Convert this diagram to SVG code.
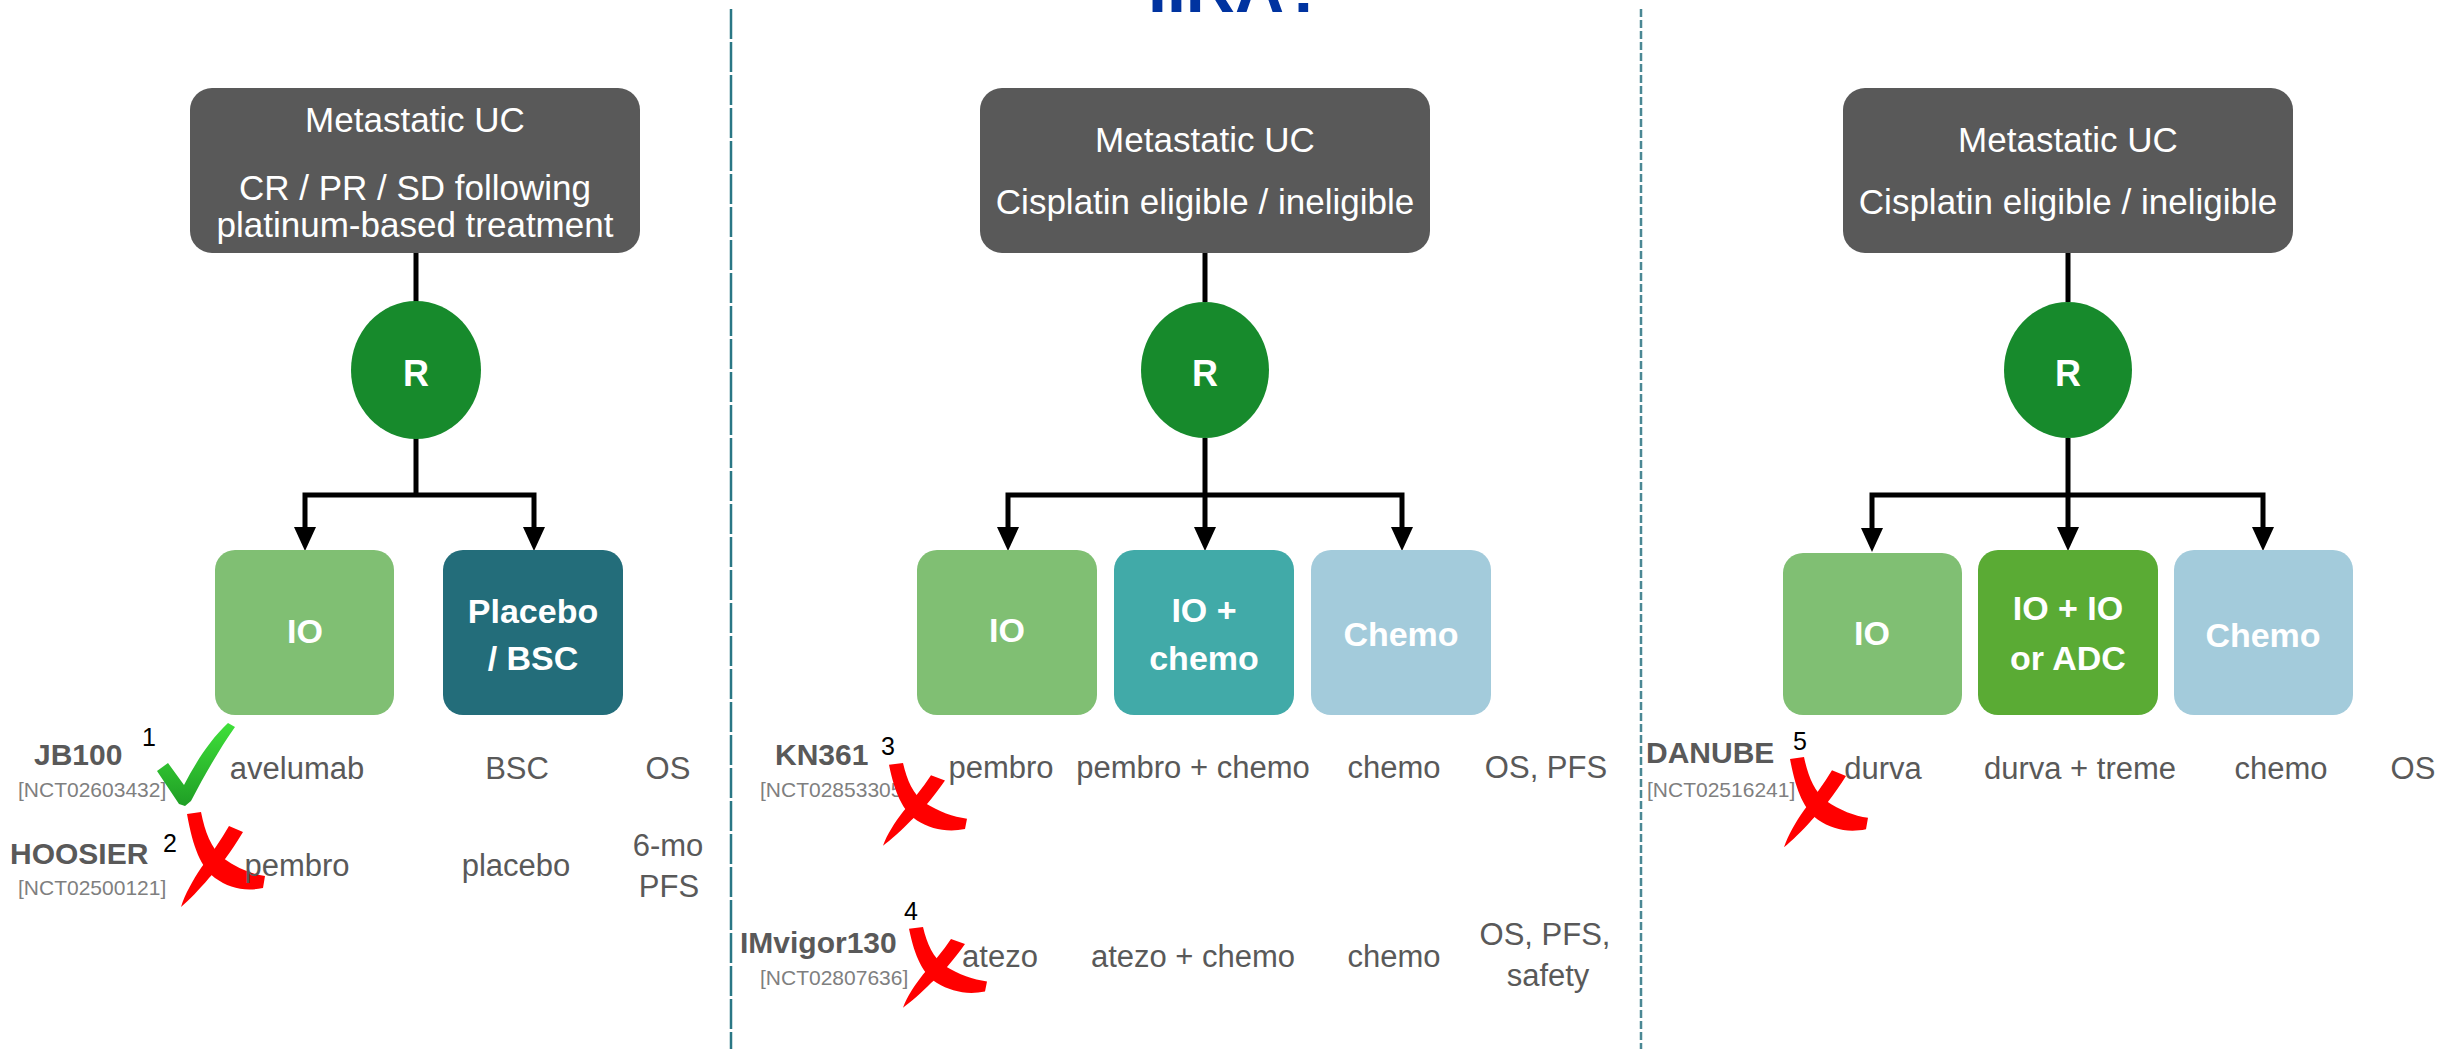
<svg xmlns="http://www.w3.org/2000/svg" width="2441" height="1049" viewBox="0 0 2441 1049">
<style>
text{font-family:"Liberation Sans",Arial,sans-serif}
.hdr{fill:#595959}
.hdrt{font-size:35px;fill:#fff;text-anchor:middle}
.rc{fill:#178a2c}
.rt{font-size:36px;font-weight:bold;fill:#fff;text-anchor:middle}
.bt{font-size:34px;font-weight:bold;fill:#fff;text-anchor:middle}
.trial{font-size:30px;font-weight:bold;fill:#595959}
.nct{font-size:21px;fill:#7f7f7f}
.sup{font-size:25px;fill:#000}
.cell{font-size:31px;fill:#595959;text-anchor:middle}
.conn{stroke:#000;stroke-width:5;fill:none}
.xm{fill:#ff0000}
</style>
<defs>
<marker id="arr" markerUnits="userSpaceOnUse" markerWidth="24" markerHeight="22" refX="0" refY="11" orient="auto" viewBox="0 0 24 22"><path d="M0,0 L24,11 L0,22 z" fill="#000"/></marker>
<symbol id="xmark" overflow="visible">
<path class="xm" d="M8,2 L22,0 C26,20 32,36 44,46 C58,56 72,62 86,64 L84,76 C66,80 50,76 36,66 C22,55 14,36 8,2 Z"/>
<path class="xm" d="M50,14 L64,20 C52,40 40,56 30,66 C20,78 10,88 2,95 C6,82 14,68 22,56 C32,42 42,28 50,14 Z"/>
</symbol>
<linearGradient id="chk" x1="0" y1="0" x2="0" y2="1"><stop offset="0" stop-color="#3fe03a"/><stop offset="1" stop-color="#1f9e25"/></linearGradient>
</defs>
<rect width="2441" height="1049" fill="#fff"/>

<text x="1148" y="12" font-size="68" font-weight="bold" fill="#0033a0">IIRA?</text>

<g id="dividers">
<line x1="731" y1="9" x2="731" y2="1049" stroke="#2a7785" stroke-width="2.5" stroke-dasharray="30 3"/>
<line x1="1641" y1="9" x2="1641" y2="1049" stroke="#4a8894" stroke-width="2.5" stroke-dasharray="8 3"/>
</g>

<g id="connectors">
<path class="conn" d="M416,253 V302"/>
<path class="conn" d="M416,438 V495"/>
<path class="conn" d="M416,495 H305 V527" marker-end="url(#arr)"/>
<path class="conn" d="M416,495 H534 V527" marker-end="url(#arr)"/>

<path class="conn" d="M1205,253 V302"/>
<path class="conn" d="M1205,438 V495"/>
<path class="conn" d="M1205,495 H1008 V527" marker-end="url(#arr)"/>
<path class="conn" d="M1205,495 V527" marker-end="url(#arr)"/>
<path class="conn" d="M1205,495 H1402 V527" marker-end="url(#arr)"/>

<path class="conn" d="M2068,253 V302"/>
<path class="conn" d="M2068,438 V495"/>
<path class="conn" d="M2068,495 H1872 V528" marker-end="url(#arr)"/>
<path class="conn" d="M2068,495 V527" marker-end="url(#arr)"/>
<path class="conn" d="M2068,495 H2263 V527" marker-end="url(#arr)"/>
</g>

<!-- Panel 1 -->
<g id="p1-top"><rect class="hdr" x="190" y="88" width="450" height="165" rx="22"/>
<text class="hdrt" x="415" y="132">Metastatic UC</text>
<text class="hdrt" x="415" y="200">CR / PR / SD following</text>
<text class="hdrt" x="415" y="237">platinum-based treatment</text></g>
<g id="p1-r"><ellipse class="rc" cx="416" cy="370" rx="65" ry="69"/><text class="rt" x="416" y="386">R</text></g>
<g id="p1-io"><rect x="215" y="550" width="179" height="165" rx="20" fill="#80bf73"/><text class="bt" x="305" y="643">IO</text></g>
<g id="p1-placebo"><rect x="443" y="550" width="180" height="165" rx="20" fill="#236d7a"/><text class="bt" x="533" y="623">Placebo</text><text class="bt" x="533" y="670">/ BSC</text></g>

<!-- Panel 2 -->
<g id="p2-top"><rect class="hdr" x="980" y="88" width="450" height="165" rx="22"/>
<text class="hdrt" x="1205" y="152">Metastatic UC</text>
<text class="hdrt" x="1205" y="214">Cisplatin eligible / ineligible</text></g>
<g id="p2-r"><ellipse class="rc" cx="1205" cy="370" rx="64" ry="68"/><text class="rt" x="1205" y="386">R</text></g>
<g id="p2-io"><rect x="917" y="550" width="180" height="165" rx="20" fill="#80bf73"/><text class="bt" x="1007" y="642">IO</text></g>
<g id="p2-iochemo"><rect x="1114" y="550" width="180" height="165" rx="20" fill="#41aaa8"/><text class="bt" x="1204" y="622">IO +</text><text class="bt" x="1204" y="670">chemo</text></g>
<g id="p2-chemo"><rect x="1311" y="550" width="180" height="165" rx="20" fill="#a3cbdb"/><text class="bt" x="1401" y="646">Chemo</text></g>

<!-- Panel 3 -->
<g id="p3-top"><rect class="hdr" x="1843" y="88" width="450" height="165" rx="22"/>
<text class="hdrt" x="2068" y="152">Metastatic UC</text>
<text class="hdrt" x="2068" y="214">Cisplatin eligible / ineligible</text></g>
<g id="p3-r"><ellipse class="rc" cx="2068" cy="370" rx="64" ry="68"/><text class="rt" x="2068" y="386">R</text></g>
<g id="p3-io"><rect x="1783" y="553" width="179" height="162" rx="20" fill="#80bf73"/><text class="bt" x="1872" y="645">IO</text></g>
<g id="p3-ioio"><rect x="1978" y="550" width="180" height="165" rx="20" fill="#5aab34"/><text class="bt" x="2068" y="620">IO + IO</text><text class="bt" x="2068" y="670">or ADC</text></g>
<g id="p3-chemo"><rect x="2174" y="550" width="179" height="165" rx="20" fill="#a3cbdb"/><text class="bt" x="2263" y="647">Chemo</text></g>

<!-- Trials table -->
<g id="jb100">
<text class="trial" x="34" y="765">JB100</text>
<text class="sup" x="142" y="746">1</text>
<text class="nct" x="18" y="797">[NCT02603432]</text>
<path fill="url(#chk)" d="M157,771 L168,763 L184,785 C196,762 210,740 228,723 L235,727 C220,748 204,776 191,801 L185,806 L179,804 Z"/>
<text class="cell" x="297" y="779">avelumab</text>
<text class="cell" x="517" y="779">BSC</text>
<text class="cell" x="668" y="779">OS</text>
</g>
<g id="hoosier">
<text class="trial" x="10" y="864">HOOSIER</text>
<text class="sup" x="163" y="852">2</text>
<text class="nct" x="18" y="895">[NCT02500121]</text>
<use href="#xmark" transform="translate(179,812)"/>
<text class="cell" x="297" y="876">pembro</text>
<text class="cell" x="516" y="876">placebo</text>
<text class="cell" x="668" y="856">6-mo</text>
<text class="cell" x="669" y="897">PFS</text>
</g>
<g id="kn361">
<text class="trial" x="775" y="765">KN361</text>
<text class="sup" x="881" y="755">3</text>
<text class="nct" x="760" y="797">[NCT02853305]</text>
<use href="#xmark" transform="translate(881,763) scale(1,0.87)"/>
<text class="cell" x="1001" y="778">pembro</text>
<text class="cell" x="1193" y="778">pembro + chemo</text>
<text class="cell" x="1394" y="778">chemo</text>
<text class="cell" x="1546" y="778">OS, PFS</text>
</g>
<g id="imvigor130">
<text class="trial" x="740" y="953">IMvigor130</text>
<text class="sup" x="904" y="920">4</text>
<text class="nct" x="760" y="985">[NCT02807636]</text>
<use href="#xmark" transform="translate(901,927) scale(1,0.85)"/>
<text class="cell" x="1000" y="967">atezo</text>
<text class="cell" x="1193" y="967">atezo + chemo</text>
<text class="cell" x="1394" y="967">chemo</text>
<text class="cell" x="1545" y="945">OS, PFS,</text>
<text class="cell" x="1548" y="986">safety</text>
</g>
<g id="danube">
<text class="trial" x="1646" y="763">DANUBE</text>
<text class="sup" x="1793" y="750">5</text>
<text class="nct" x="1647" y="797">[NCT02516241]</text>
<use href="#xmark" transform="translate(1782,757) scale(1,0.95)"/>
<text class="cell" x="1883" y="779">durva</text>
<text class="cell" x="2080" y="779">durva + treme</text>
<text class="cell" x="2281" y="779">chemo</text>
<text class="cell" x="2413" y="779">OS</text>
</g>
</svg>
